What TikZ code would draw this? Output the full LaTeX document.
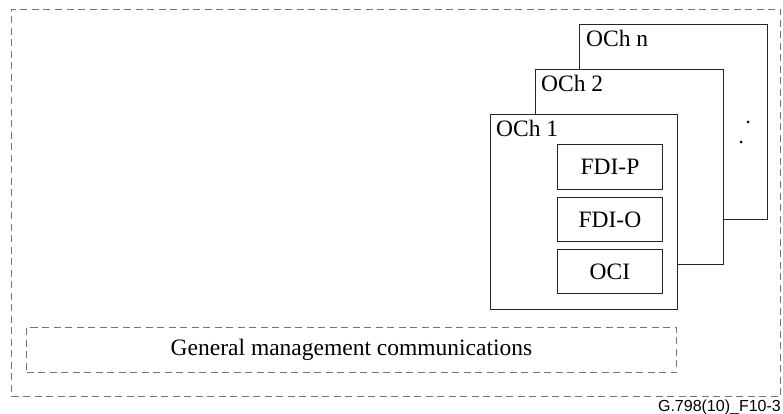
\documentclass[tikz,border=0pt]{standalone}
\usepackage{fontspec}
\setmainfont{Liberation Serif}
\newfontfamily\idfont{Liberation Sans}

\begin{document}
\begin{tikzpicture}[
        x=1pt, y=-1pt,
        font=\fontsize{23.5}{28}\selectfont,
        every node/.style={align=center},
        dashbox/.style={draw=black!55, dash pattern=on 7pt off 4.5pt, line width=1pt, anchor=north west, inner sep=0pt},
        chbox/.style={draw=black!85, fill=white, line width=0.9pt, anchor=north west, inner sep=0pt,
                      minimum width=188pt, minimum height=195pt},
        fnbox/.style={draw=black!85, line width=0.9pt, anchor=north west, inner sep=0pt,
                      minimum width=105pt, minimum height=45pt},
        chlabel/.style={anchor=base west, inner sep=0pt}
    ]

        % --- Rahmen ---
        \useasboundingbox (0,0) rectangle (783,414);

        % X-/Y-Positionen der Kanal-Stapel
        \def\chx{490}
        \def\chy{114}
        \def\chdx{44.5}
        \def\chdy{45}

        % --- Aeusserer Rahmen ---
        \node[dashbox, minimum width=769pt, minimum height=387pt] (frame) at (11,9) {};

        % --- Kanaele (hinten nach vorne) ---
        \node[chbox] (ochn) at (\chx+2*\chdx, \chy-2*\chdy) {};
        \node[chlabel] (ochnlabel) at (586,47) {OCh n};

        \node[chbox] (och2) at (\chx+\chdx, \chy-\chdy) {};
        \node[chlabel] (och2label) at (541,92) {OCh 2};

        \node[chbox, minimum width=187pt] (och1) at (\chx, \chy) {};
        \node[chlabel] (och1label) at (496,137) {OCh 1};

        % Punkte zwischen OCh 2 und OCh n
        \fill (748,122) circle (1.5pt);
        \fill (741,142) circle (1.5pt);

        % --- Innere Bloecke von OCh 1 ---
        \node[fnbox] (fdip) at (557,144) {FDI-P};
        \node[fnbox, minimum height=44pt] (fdio) at (557,197) {FDI-O};
        \node[fnbox, minimum height=44pt] (oci) at (557,249) {OCI};

        % --- Management ---
        \node[dashbox, minimum width=650pt, minimum height=45pt] (gmc) at (26,327) {};
        \node (gmclabel) at (gmc.center) {General management communications};

        % --- Kennung ---
        \node[anchor=base east, inner sep=0pt, font=\idfont\fontsize{16}{19}\selectfont] (figid) at (781,411) {G.798(10)\_F10-3};

    \end{tikzpicture}
\end{document}
